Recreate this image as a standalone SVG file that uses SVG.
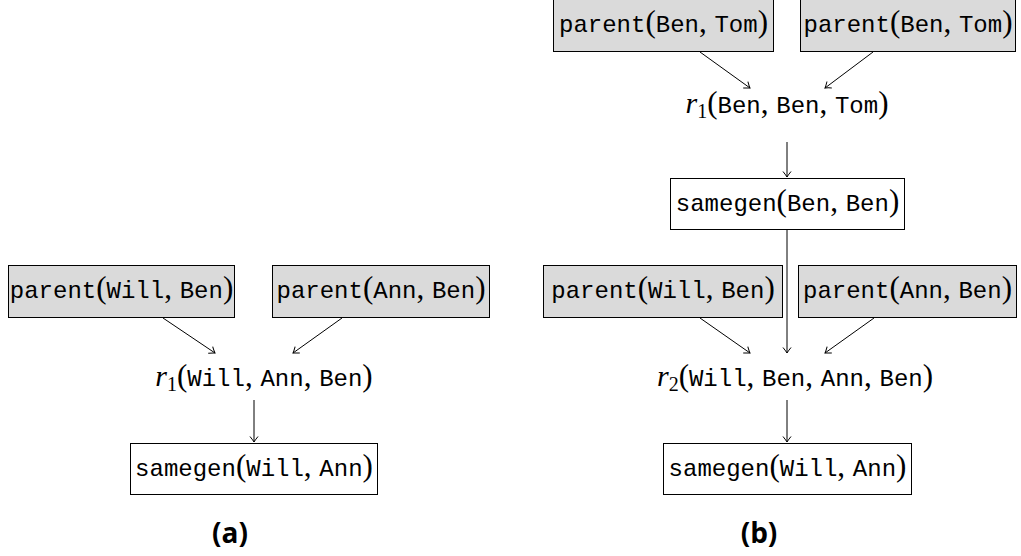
<svg xmlns="http://www.w3.org/2000/svg" width="1021" height="556" viewBox="0 0 1021 556">
<style>
.bg{fill:#ffffff}
.fact{fill:#dadada;stroke:#000;stroke-width:1}
.der{fill:#ffffff;stroke:#000;stroke-width:1}
.t{font-family:"Liberation Mono",monospace;font-size:24px;fill:#000;text-anchor:middle}
.p{font-family:"Liberation Serif",serif;font-size:31px}
.r{font-family:"Liberation Serif",serif;font-style:italic;font-size:30px}
.s{font-family:"Liberation Serif",serif;font-size:20px}
.cap{font-family:"Open Sans",sans-serif;font-weight:bold;font-size:28px;text-anchor:middle;fill:#000}
.e{fill:none;stroke:#000;stroke-width:1}
</style>
<defs>
<marker id="ah" markerUnits="userSpaceOnUse" markerWidth="14" markerHeight="14" refX="0" refY="0" viewBox="-8 -7 10 14" orient="auto">
<path d="M-5.5,-4 Q-1.5,-0.8 0,0 Q-1.5,0.8 -5.5,4" fill="none" stroke="#000" stroke-width="1"/>
</marker>
</defs>
<rect class="bg" x="0" y="0" width="1021" height="556"/>

<g id="connectors">
<line class="e" x1="163" y1="318" x2="215" y2="353" marker-end="url(#ah)"/>
<line class="e" x1="342" y1="318" x2="293" y2="353" marker-end="url(#ah)"/>
<line class="e" x1="254" y1="400" x2="254" y2="442" marker-end="url(#ah)"/>
<line class="e" x1="700" y1="52" x2="750" y2="88" marker-end="url(#ah)"/>
<line class="e" x1="873" y1="52" x2="825" y2="88" marker-end="url(#ah)"/>
<line class="e" x1="787" y1="142" x2="787" y2="177" marker-end="url(#ah)"/>
<line class="e" x1="787" y1="229" x2="787" y2="353" marker-end="url(#ah)"/>
<line class="e" x1="700" y1="318" x2="750" y2="353" marker-end="url(#ah)"/>
<line class="e" x1="874" y1="318" x2="825" y2="353" marker-end="url(#ah)"/>
<line class="e" x1="787" y1="400" x2="787" y2="442" marker-end="url(#ah)"/>
</g>

<g id="a_parent_will_ben">
<rect class="fact" x="8.5" y="265.5" width="226" height="52"/>
<text class="t" x="121.5" y="298">parent<tspan class="p">(</tspan>Will<tspan class="p">, </tspan>Ben<tspan class="p">)</tspan></text>
</g>
<g id="a_parent_ann_ben">
<rect class="fact" x="272.5" y="265.5" width="217" height="52"/>
<text class="t" x="381" y="298">parent<tspan class="p">(</tspan>Ann<tspan class="p">, </tspan>Ben<tspan class="p">)</tspan></text>
</g>
<g id="a_r1">
<text class="t" x="264" y="386"><tspan class="r">r</tspan><tspan class="s" dy="5">1</tspan><tspan class="p" dy="-5">(</tspan>Will<tspan class="p">, </tspan>Ann<tspan class="p">, </tspan>Ben<tspan class="p">)</tspan></text>
</g>
<g id="a_samegen">
<rect class="der" x="130.5" y="443.5" width="247" height="51"/>
<text class="t" x="254" y="476">samegen<tspan class="p">(</tspan>Will<tspan class="p">, </tspan>Ann<tspan class="p">)</tspan></text>
</g>
<g id="a_caption">
<text class="cap" x="230" y="543">(a)</text>
</g>

<g id="b_parent_ben_tom_1">
<rect class="fact" x="553.5" y="-0.5" width="220" height="52"/>
<text class="t" x="663.5" y="32">parent<tspan class="p">(</tspan>Ben<tspan class="p">, </tspan>Tom<tspan class="p">)</tspan></text>
</g>
<g id="b_parent_ben_tom_2">
<rect class="fact" x="800.5" y="-0.5" width="215" height="52"/>
<text class="t" x="908" y="32">parent<tspan class="p">(</tspan>Ben<tspan class="p">, </tspan>Tom<tspan class="p">)</tspan></text>
</g>
<g id="b_r1">
<text class="t" x="787" y="113"><tspan class="r">r</tspan><tspan class="s" dy="5">1</tspan><tspan class="p" dy="-5">(</tspan>Ben<tspan class="p">, </tspan>Ben<tspan class="p">, </tspan>Tom<tspan class="p">)</tspan></text>
</g>
<g id="b_samegen_ben_ben">
<rect class="der" x="670.5" y="178.5" width="234" height="51"/>
<text class="t" x="787.5" y="211">samegen<tspan class="p">(</tspan>Ben<tspan class="p">, </tspan>Ben<tspan class="p">)</tspan></text>
</g>
<g id="b_parent_will_ben">
<rect class="fact" x="543.5" y="265.5" width="239" height="52"/>
<text class="t" x="663" y="298">parent<tspan class="p">(</tspan>Will<tspan class="p">, </tspan>Ben<tspan class="p">)</tspan></text>
</g>
<g id="b_parent_ann_ben">
<rect class="fact" x="798.5" y="265.5" width="218" height="52"/>
<text class="t" x="907.5" y="298">parent<tspan class="p">(</tspan>Ann<tspan class="p">, </tspan>Ben<tspan class="p">)</tspan></text>
</g>
<g id="b_r2">
<text class="t" x="795" y="386"><tspan class="r">r</tspan><tspan class="s" dy="5">2</tspan><tspan class="p" dy="-5">(</tspan>Will<tspan class="p">, </tspan>Ben<tspan class="p">, </tspan>Ann<tspan class="p">, </tspan>Ben<tspan class="p">)</tspan></text>
</g>
<g id="b_samegen_will_ann">
<rect class="der" x="663.5" y="443.5" width="248" height="51"/>
<text class="t" x="787.5" y="476">samegen<tspan class="p">(</tspan>Will<tspan class="p">, </tspan>Ann<tspan class="p">)</tspan></text>
</g>
<g id="b_caption">
<text class="cap" x="759" y="543">(b)</text>
</g>
</svg>
